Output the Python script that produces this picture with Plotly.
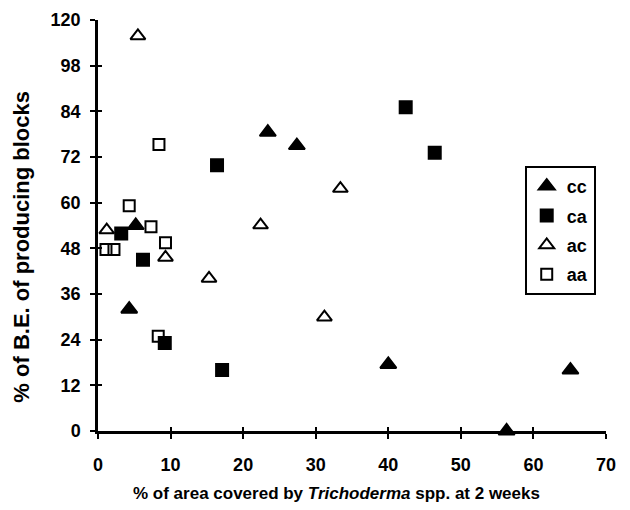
import plotly.graph_objects as go

# Data
cc_x = [5.2, 4.3, 23.4, 27.4, 40.0, 56.3, 65.1]
cc_y = [54.0, 32.0, 78.5, 75.0, 17.5, 0.0, 16.0]

ca_x = [3.2, 6.2, 9.2, 16.4, 17.1, 42.4, 46.4]
ca_y = [51.9, 45.0, 23.1, 69.8, 16.0, 85.1, 73.1]

ac_x = [1.2, 5.5, 9.3, 15.3, 22.4, 31.2, 33.4]
ac_y = [52.8, 103.8, 45.6, 40.1, 54.1, 29.9, 63.7]

aa_x = [1.1, 2.2, 4.3, 7.3, 8.4, 9.3, 8.3]
aa_y = [47.7, 47.7, 59.2, 53.7, 75.3, 49.5, 24.9]

x_ticks = [0, 10, 20, 30, 40, 50, 60, 70]
y_tickvals = [0, 12, 24, 36, 48, 60, 72, 84, 96, 108]
y_ticktext = ["0", "12", "24", "36", "48", "60", "72", "84", "98", "120"]

x_title = "% of area covered by <i>Trichoderma</i> spp. at 2 weeks"
y_title = "% of B.E. of producing blocks"

FONT = "Liberation Sans, Arial, sans-serif"

fig = go.Figure()

series = [
    ("cc", cc_x, cc_y, "triangle-up", 14),
    ("ca", ca_x, ca_y, "square", 12),
    ("ac", ac_x, ac_y, "triangle-up-open", 13),
    ("aa", aa_x, aa_y, "square-open", 11),
]
for name, xs, ys, sym, sz in series:
    fig.add_trace(go.Scatter(
        x=xs, y=ys, mode="markers", name=name, legendgroup=name,
        marker=dict(symbol=sym, size=sz, color="black",
                    line=dict(color="black", width=2)),
        cliponaxis=False,
    ))

# helper trace for the overlay axes that draw the inner half of the ticks
fig.add_trace(go.Scatter(x=[None], y=[None], xaxis="x2", yaxis="y2",
                         showlegend=False, hoverinfo="skip"))

fig.update_layout(
    width=622, height=502,
    margin=dict(l=90, r=24, t=12, b=79),
    paper_bgcolor="white", plot_bgcolor="white",
    font=dict(family=FONT, size=16, color="black"),
    showlegend=True,
    legend=dict(
        x=0.84, y=0.645, xanchor="left", yanchor="top",
        bordercolor="black", borderwidth=2, bgcolor="white",
        font=dict(family=FONT, size=18, color="black", weight="bold"),
        tracegroupgap=3, traceorder="grouped", itemwidth=30,
    ),
    xaxis=dict(
        range=[0, 70], tickvals=x_ticks, ticks="outside", ticklen=5,
        tickwidth=2, tickcolor="black", showline=True, linewidth=2.5,
        linecolor="black", showgrid=False, zeroline=False, automargin=False,
        tickfont=dict(family=FONT, size=18, weight="bold"),
        ticklabelstandoff=11,
    ),
    yaxis=dict(
        range=[0, 108], tickvals=y_tickvals, ticktext=y_ticktext,
        ticks="outside", ticklen=5, tickwidth=2, tickcolor="black",
        showline=True, linewidth=2.5, linecolor="black", showgrid=False,
        zeroline=False, automargin=False,
        tickfont=dict(family=FONT, size=18, weight="bold"),
        ticklabelstandoff=6,
    ),
    xaxis2=dict(
        overlaying="x", anchor="y2", range=[0, 70], tickvals=x_ticks,
        ticks="inside", ticklen=4, tickwidth=2, tickcolor="black",
        showticklabels=False, showline=False, showgrid=False, zeroline=False,
        automargin=False,
    ),
    yaxis2=dict(
        overlaying="y", anchor="x2", side="left", range=[0, 108],
        tickvals=y_tickvals, ticks="inside", ticklen=4, tickwidth=2,
        tickcolor="black", showticklabels=False, showline=False,
        showgrid=False, zeroline=False, automargin=False,
    ),
    annotations=[
        dict(text=x_title, xref="paper", yref="paper", x=0.469, y=-0.151,
             xanchor="center", yanchor="middle", showarrow=False,
             font=dict(family=FONT, size=17, weight="bold", color="black")),
        dict(text=y_title, xref="paper", yref="paper", x=-0.15, y=0.448,
             xanchor="center", yanchor="middle", showarrow=False, textangle=-90,
             font=dict(family=FONT, size=22, weight="bold", color="black")),
    ],
)

fig.write_html("out.html")
